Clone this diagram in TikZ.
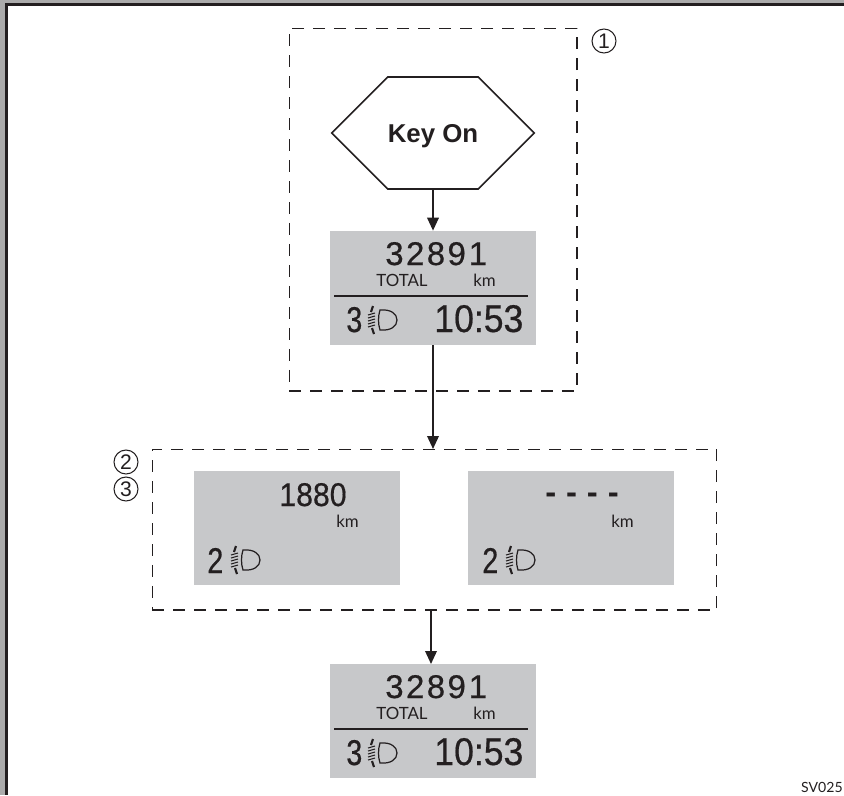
\documentclass[tikz,border=0pt]{standalone}
\usepackage{fontspec}
\setmainfont{Liberation Sans}
\newfontfamily\lcdfont[LetterSpace=7.5,FakeBold=0.5]{Liberation Sans}
\newfontfamily\lcdtime[FakeStretch=0.92,FakeBold=0.5]{Liberation Sans}
\newfontfamily\lcdgear[FakeStretch=0.8,FakeBold=0.5]{Liberation Sans}
\newfontfamily\lcddash[LetterSpace=30]{Liberation Sans}
\newfontfamily\labelfont{Lato}
\usetikzlibrary{arrows.meta,shapes.symbols}
\definecolor{lcdGray}{HTML}{C7C8CA}
\definecolor{lcdInk}{HTML}{231F20}
\definecolor{edgeGray}{HTML}{ABABAB}

\begin{document}
\begin{tikzpicture}[
        x=0.02cm, y=-0.02cm,
        lcd/.style={fill=lcdGray, minimum width=4.12cm, minimum height=2.28cm, inner sep=0pt},
        group/.style={draw=lcdInk, line width=0.6pt, dash pattern=on 0.24cm off 0.18cm, inner sep=0pt},
        start/.style={draw=lcdInk, line width=0.9pt, signal, signal to=east and west, signal pointer angle=90, minimum width=3.94cm, minimum height=2.24cm, inner sep=0pt, font=\bfseries\fontsize{14.7}{16}\selectfont, text=lcdInk},
        flow/.style={-{Triangle[length=2.6mm, width=2.3mm]}, line width=1.1pt, draw=lcdInk},
        odo/.style={anchor=base west, inner sep=0pt, text=lcdInk, font=\lcdfont\fontsize{18.7}{20}\selectfont},
        gear/.style={anchor=base west, inner sep=0pt, text=lcdInk, font=\lcdgear\fontsize{20.4}{22}\selectfont},
        clock/.style={anchor=base west, inner sep=0pt, text=lcdInk, font=\lcdtime\fontsize{22}{24}\selectfont},
        unit/.style={anchor=base west, inner sep=0pt, text=lcdInk, font=\labelfont\fontsize{9.6}{11}\selectfont},
        step num/.style={draw=lcdInk, line width=0.6pt, circle, minimum size=0.48cm, inner sep=0pt, text=lcdInk, font=\fontsize{12}{14}\selectfont},
        lamp/.pic={
            \draw[lcdInk, line width=0.7pt] (1,-10) .. controls (12,-11) and (18,-6) .. (18,0) .. controls (18,6) and (12,11) .. (1,10) .. controls (-1,4) and (-1,-4) .. (1,-10) -- cycle;
            \foreach \yy in {-6,-3,0,3,6}
                \draw[lcdInk, line width=0.6pt] (-11,\yy+1) -- (-4,\yy-1);
            \draw[lcdInk, line width=1.2pt] (-6,-14) -- (-8,-8);
            \draw[lcdInk, line width=1.2pt] (-7,8) -- (-5,14);
        }
    ]
        \useasboundingbox (0,0) rectangle (844,795);

        % page edge
        \fill[edgeGray] (0,0) rectangle (844,3);
        \fill[edgeGray] (0,0) rectangle (5,795);
        \fill[lcdInk] (5,3) rectangle (844,6);
        \fill[lcdInk] (5,3) rectangle (8,795);

        % groups
        \node[group, minimum width=5.76cm, minimum height=7.26cm] (groupA) at (433,209.5) {};
        \node[group, minimum width=11.3cm, minimum height=3.22cm] (groupB) at (434.5,529.5) {};
        \node[step num] (numA) at (604,41) {1};
        \node[step num] (numB) at (126,462) {2};
        \node[step num] (numC) at (126,489) {3};

        \node[start] (keyon) at (433,133) {\rule{0pt}{13.4pt}Key On};

        % first display
        \node[lcd] (lcdA) at (433,288) {};
        \node[odo] (odoA) at (385,265) {3289\kern1.7pt 1};
        \node[unit] (totalA) at (376,286) {TOTAL};
        \node[unit] (kmA) at (473,286) {km};
        \draw[lcdInk, line width=0.85pt] (334,296) -- (528,296);
        \node[gear] (gearA) at (346,332) {3};
        \pic at (379,320) {lamp};
        \node[clock] (timeA) at (434,332) {10:53};

        % trip display
        \node[lcd] (lcdB) at (297,527.5) {};
        \node[odo, font=\lcdtime\fontsize{18.7}{20}\selectfont] (odoB) at (279,506) {1880};
        \node[unit] (kmB) at (336,527) {km};
        \node[gear] (gearB) at (207,573) {2};
        \pic at (242,560) {lamp};

        % trip display, no value
        \node[lcd] (lcdC) at (571,527.5) {};
        \node[odo, font=\lcddash\bfseries\fontsize{18.7}{20}\selectfont] (odoC) at (545,503) {-{}-{}-{}-};
        \node[unit] (kmC) at (611,527) {km};
        \node[gear] (gearC) at (482,573) {2};
        \pic at (517,560) {lamp};

        % last display
        \node[lcd] (lcdD) at (433,721) {};
        \node[odo] (odoD) at (385,698) {3289\kern1.7pt 1};
        \node[unit] (totalD) at (376,719) {TOTAL};
        \node[unit] (kmD) at (473,719) {km};
        \draw[lcdInk, line width=0.85pt] (334,729) -- (528,729);
        \node[gear] (gearD) at (346,765) {3};
        \pic at (379,753) {lamp};
        \node[clock] (timeD) at (434,765) {10:53};

        \node[anchor=base east, inner sep=0pt, text=lcdInk, font=\labelfont\fontsize{8}{10}\selectfont] (code) at (843,792) {SV025};

        \coordinate (inB) at (433,449);
        \coordinate (outB) at (431,610);
        \coordinate (inD) at (431,664);
        \draw[flow] (keyon) -- (lcdA);
        \draw[flow] (lcdA) -- (inB);
        \draw[flow] (outB) -- (inD);
    \end{tikzpicture}
\end{document}
